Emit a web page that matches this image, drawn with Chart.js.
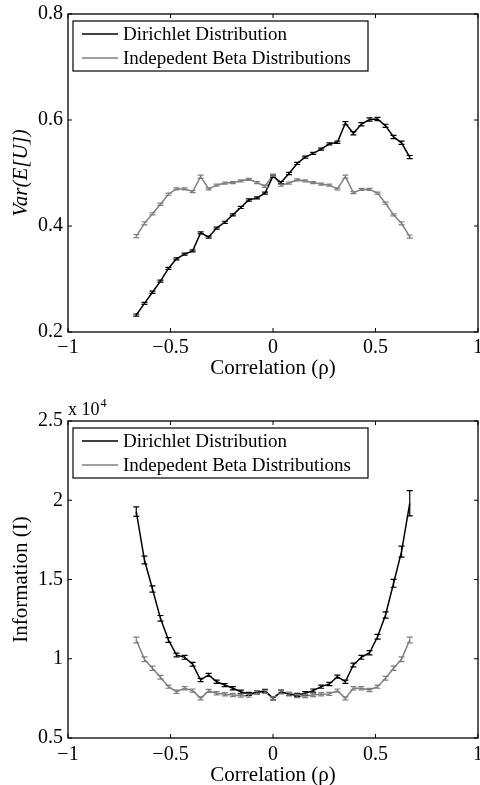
<!DOCTYPE html>
<html>
<head>
<meta charset="utf-8">
<script src="https://cdn.jsdelivr.net/npm/chart.js@4.4.0/dist/chart.umd.min.js"></script>
<style>
  html, body { margin: 0; padding: 0; background: #fff; overflow: hidden; }
  #wrapVar { position: absolute; left: 0; top: 0; width: 480px; height: 385px; }
  #wrapInfo { position: absolute; left: 0; top: 385px; width: 480px; height: 405px; }
</style>
</head>
<body>
<div id="wrapVar"><canvas id="varChart"></canvas></div>
<div id="wrapInfo"><canvas id="infoChart"></canvas></div>
<script>
// ----- DATA -----
const rho = [-0.667, -0.627, -0.588, -0.549, -0.510, -0.471, -0.431, -0.392, -0.353, -0.314,
             -0.275, -0.235, -0.196, -0.157, -0.118, -0.078, -0.039, 0, 0.039, 0.078,
             0.118, 0.157, 0.196, 0.235, 0.275, 0.314, 0.353, 0.392, 0.431, 0.471,
             0.510, 0.549, 0.588, 0.627, 0.667];

const seriesNames = ['Dirichlet Distribution', 'Indepedent Beta Distributions'];

// top panel: Var(E[U])
const varDirichlet = [0.232, 0.254, 0.275, 0.296, 0.320, 0.338, 0.347, 0.353, 0.387, 0.379,
                      0.396, 0.407, 0.421, 0.435, 0.449, 0.453, 0.462, 0.494, 0.482, 0.499,
                      0.518, 0.530, 0.537, 0.545, 0.555, 0.558, 0.594, 0.575, 0.592, 0.601,
                      0.602, 0.589, 0.568, 0.557, 0.530];
const varDirichletErr = [0.002, 0.002, 0.002, 0.002, 0.002, 0.002, 0.002, 0.002, 0.002, 0.002,
                         0.002, 0.002, 0.002, 0.002, 0.002, 0.002, 0.002, 0.002, 0.002, 0.002,
                         0.002, 0.002, 0.002, 0.002, 0.002, 0.002, 0.003, 0.003, 0.003, 0.003,
                         0.003, 0.003, 0.003, 0.003, 0.003];
const varBeta = [0.381, 0.405, 0.423, 0.441, 0.460, 0.470, 0.470, 0.465, 0.493, 0.470,
                 0.477, 0.481, 0.482, 0.485, 0.488, 0.482, 0.475, 0.496, 0.477, 0.481,
                 0.487, 0.485, 0.482, 0.479, 0.477, 0.470, 0.493, 0.463, 0.469, 0.469,
                 0.462, 0.443, 0.421, 0.405, 0.380];
const varBetaErr = [0.003, 0.003, 0.002, 0.002, 0.002, 0.002, 0.002, 0.002, 0.003, 0.002,
                    0.002, 0.002, 0.002, 0.002, 0.002, 0.002, 0.002, 0.002, 0.002, 0.002,
                    0.002, 0.002, 0.002, 0.002, 0.002, 0.002, 0.003, 0.002, 0.002, 0.002,
                    0.002, 0.002, 0.002, 0.003, 0.003];

// bottom panel: Information (I), in units of 10^4
const infoDirichlet = [1.928, 1.623, 1.440, 1.255, 1.118, 1.024, 1.009, 0.965, 0.866, 0.898,
                       0.855, 0.834, 0.814, 0.792, 0.778, 0.788, 0.797, 0.750, 0.792, 0.778,
                       0.771, 0.782, 0.799, 0.824, 0.841, 0.887, 0.855, 0.961, 1.009, 1.038,
                       1.139, 1.276, 1.476, 1.676, 1.981];
const infoDirichletErr = [0.030, 0.025, 0.020, 0.018, 0.015, 0.012, 0.012, 0.012, 0.010, 0.010,
                          0.010, 0.010, 0.010, 0.010, 0.010, 0.010, 0.010, 0.010, 0.010, 0.010,
                          0.010, 0.010, 0.010, 0.010, 0.010, 0.010, 0.010, 0.012, 0.012, 0.013,
                          0.015, 0.020, 0.025, 0.035, 0.080];
const infoBeta = [1.118, 0.997, 0.940, 0.883, 0.824, 0.792, 0.814, 0.799, 0.750, 0.797,
                  0.782, 0.776, 0.771, 0.767, 0.767, 0.788, 0.792, 0.750, 0.788, 0.776,
                  0.765, 0.765, 0.771, 0.776, 0.778, 0.799, 0.750, 0.814, 0.814, 0.803,
                  0.824, 0.877, 0.940, 0.997, 1.118];
const infoBetaErr = [0.018, 0.015, 0.013, 0.012, 0.010, 0.010, 0.010, 0.010, 0.010, 0.010,
                     0.010, 0.010, 0.010, 0.010, 0.010, 0.010, 0.010, 0.010, 0.010, 0.010,
                     0.010, 0.010, 0.010, 0.010, 0.010, 0.010, 0.010, 0.010, 0.010, 0.010,
                     0.010, 0.012, 0.013, 0.015, 0.018];

const xTicks = [-1, -0.5, 0, 0.5, 1];
const varTicks = [0.2, 0.4, 0.6, 0.8];
const infoTicks = [0.5, 1, 1.5, 2, 2.5];

// ----- STYLE -----
const SERIF = "'Liberation Serif', 'Times New Roman', serif";
const COLORS = ['#000000', '#7f7f7f'];
Chart.defaults.font.family = SERIF;
Chart.defaults.color = '#000';

function fmt(v) { return v < 0 ? '\u2212' + Math.abs(v) : String(v); }

function pts(ys) { return rho.map((x, i) => ({ x, y: ys[i] })); }

// box, inward ticks, error bars, legend (matlab look)
const matlabFrame = {
  id: 'matlabFrame',
  afterDatasetsDraw(chart, args, opts) {
    const { ctx, chartArea: a, scales: { x, y } } = chart;
    ctx.save();

    // error bars
    chart.data.datasets.forEach((ds, di) => {
      const err = opts.errors[di];
      ctx.strokeStyle = ds.borderColor;
      ctx.lineWidth = 1.2;
      ds.data.forEach((p, i) => {
        const px = x.getPixelForValue(p.x);
        const y1 = y.getPixelForValue(p.y + err[i]);
        const y2 = y.getPixelForValue(p.y - err[i]);
        ctx.beginPath();
        ctx.moveTo(px, y1); ctx.lineTo(px, y2);
        ctx.moveTo(px - 3, y1); ctx.lineTo(px + 3, y1);
        ctx.moveTo(px - 3, y2); ctx.lineTo(px + 3, y2);
        ctx.stroke();
      });
    });

    // frame
    ctx.strokeStyle = '#000';
    ctx.lineWidth = 1.3;
    ctx.strokeRect(a.left, a.top, a.right - a.left, a.bottom - a.top);

    // inward ticks on all four sides
    ctx.lineWidth = 1;
    ctx.beginPath();
    opts.xTicks.forEach(v => {
      const px = x.getPixelForValue(v);
      ctx.moveTo(px, a.bottom); ctx.lineTo(px, a.bottom - 4);
      ctx.moveTo(px, a.top); ctx.lineTo(px, a.top + 4);
    });
    opts.yTicks.forEach(v => {
      const py = y.getPixelForValue(v);
      ctx.moveTo(a.left, py); ctx.lineTo(a.left + 4, py);
      ctx.moveTo(a.right, py); ctx.lineTo(a.right - 4, py);
    });
    ctx.stroke();

    // legend
    const lx = a.left + 5, ly = a.top + 7;
    ctx.fillStyle = '#fff';
    ctx.fillRect(lx, ly, 295, 50);
    ctx.strokeStyle = '#000';
    ctx.lineWidth = 1.2;
    ctx.strokeRect(lx, ly, 295, 50);
    ctx.font = '19px ' + SERIF;
    ctx.textBaseline = 'middle';
    ctx.textAlign = 'left';
    seriesNames.forEach((name, i) => {
      const ry = ly + 13 + i * 24;
      ctx.strokeStyle = COLORS[i];
      ctx.lineWidth = 1.3;
      ctx.beginPath();
      ctx.moveTo(lx + 9, ry); ctx.lineTo(lx + 45, ry);
      ctx.stroke();
      ctx.fillStyle = '#000';
      ctx.fillText(name, lx + 50, ry + 1);
    });

    // exponent label
    if (opts.exponent) {
      ctx.fillStyle = '#000';
      ctx.textBaseline = 'alphabetic';
      ctx.font = '18px ' + SERIF;
      ctx.fillText('x 10', a.left, a.top - 6);
      const w = ctx.measureText('x 10').width;
      ctx.font = '12px ' + SERIF;
      ctx.fillText(opts.exponent, a.left + w + 1, a.top - 14);
    }
    ctx.restore();
  }
};

function makeChart(id, series, errs, yTicks, yMin, yMax, yTitle, yItalic, cfg) {
  const ctx = document.getElementById(id).getContext('2d');
  return new Chart(ctx, {
    type: 'line',
    data: {
      datasets: series.map((s, i) => ({
        label: seriesNames[i],
        data: pts(s),
        borderColor: COLORS[i],
        borderWidth: 1.5,
        pointRadius: 0,
        tension: 0,
        fill: false
      }))
    },
    options: {
      responsive: true,
      maintainAspectRatio: false,
      animation: false,
      layout: { padding: { top: cfg.top, right: 2, left: 0, bottom: 0 } },
      plugins: {
        legend: { display: false },
        tooltip: { enabled: false },
        matlabFrame: { errors: errs, xTicks: xTicks, yTicks: yTicks, exponent: cfg.exponent }
      },
      scales: {
        x: {
          type: 'linear',
          min: -1, max: 1,
          grid: { display: false, drawTicks: false },
          border: { display: false },
          afterBuildTicks: s => { s.ticks = xTicks.map(v => ({ value: v })); },
          afterFit: s => { s.height = cfg.xHeight; s.paddingLeft = 0; s.paddingRight = 0; },
          ticks: { padding: cfg.xPad, maxRotation: 0, font: { size: 20 }, callback: v => fmt(v) },
          title: { display: true, text: 'Correlation (\u03c1)', font: { size: 21 }, padding: { top: 0, bottom: cfg.titlePad } }
        },
        y: {
          min: yMin, max: yMax,
          grid: { display: false, drawTicks: false },
          border: { display: false },
          afterBuildTicks: s => { s.ticks = yTicks.map(v => ({ value: v })); },
          afterFit: s => { s.width = 68; s.paddingTop = 0; s.paddingBottom = 0; },
          ticks: { padding: 5, font: { size: 20 }, callback: v => fmt(v) },
          title: { display: true, text: yTitle, font: { size: 21, style: yItalic ? 'italic' : 'normal' }, padding: { top: 9, bottom: 0 } }
        }
      }
    },
    plugins: [matlabFrame]
  });
}

makeChart('varChart', [varDirichlet, varBeta], [varDirichletErr, varBetaErr],
  varTicks, 0.2, 0.8, 'Var(E[U])', true,
  { top: 14, xHeight: 53, xPad: 4, titlePad: 4 });

makeChart('infoChart', [infoDirichlet, infoBeta], [infoDirichletErr, infoBetaErr],
  infoTicks, 0.5, 2.5, 'Information (I)', false,
  { top: 36, xHeight: 52, xPad: 5, titlePad: 2, exponent: '4' });
</script>
</body>
</html>
